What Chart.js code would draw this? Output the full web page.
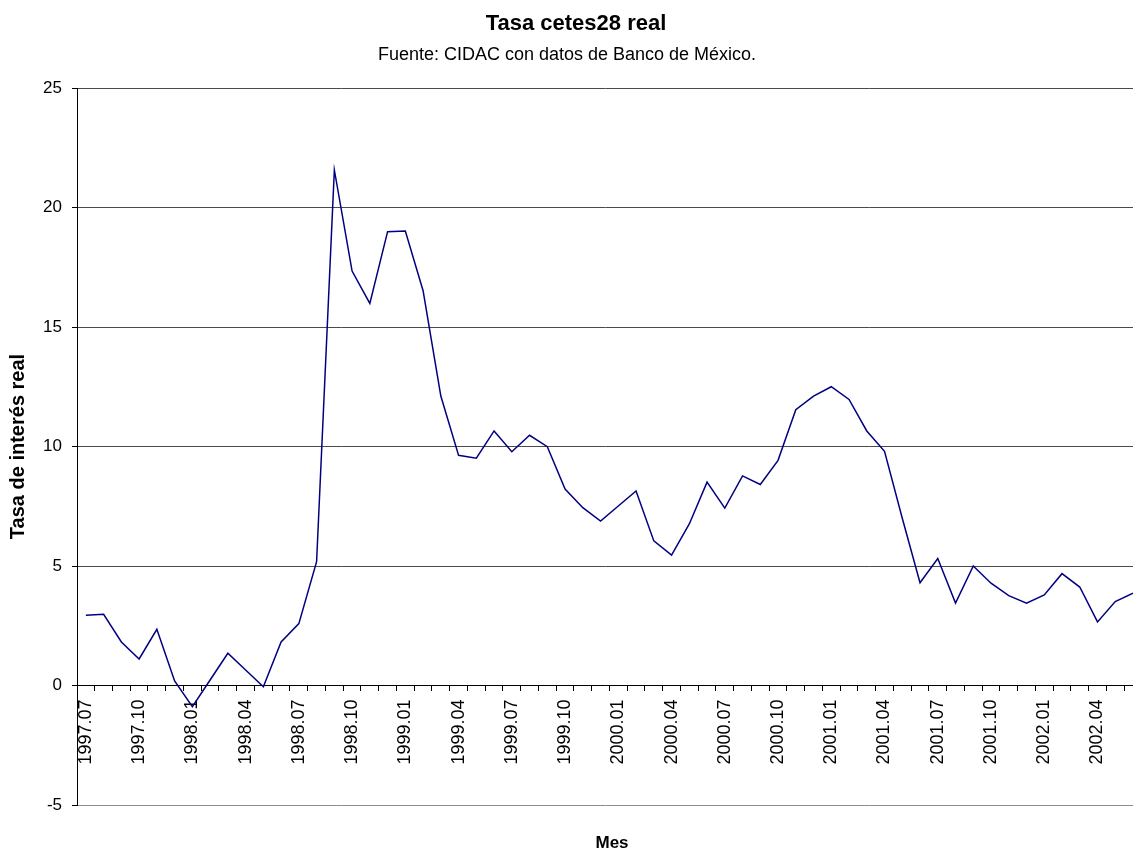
<!DOCTYPE html>
<html>
<head>
<meta charset="utf-8">
<script src="https://cdn.jsdelivr.net/npm/chart.js@4.4.1/dist/chart.umd.min.js"></script>
<style>
  html, body { margin: 0; padding: 0; background: #fff; overflow: hidden; }
  #wrap { width: 1133px; height: 850px; }
</style>
</head>
<body>
<div id="wrap"><canvas id="c" width="1133" height="850"></canvas></div>
<script>
// ---- data ----
const months = [
  "1997.07","1997.08","1997.09","1997.10","1997.11","1997.12",
  "1998.01","1998.02","1998.03","1998.04","1998.05","1998.06",
  "1998.07","1998.08","1998.09","1998.10","1998.11","1998.12",
  "1999.01","1999.02","1999.03","1999.04","1999.05","1999.06",
  "1999.07","1999.08","1999.09","1999.10","1999.11","1999.12",
  "2000.01","2000.02","2000.03","2000.04","2000.05","2000.06",
  "2000.07","2000.08","2000.09","2000.10","2000.11","2000.12",
  "2001.01","2001.02","2001.03","2001.04","2001.05","2001.06",
  "2001.07","2001.08","2001.09","2001.10","2001.11","2001.12",
  "2002.01","2002.02","2002.03","2002.04","2002.05","2002.06"
];
const tasaReal = [
  2.94, 2.98, 1.82, 1.11, 2.35, 0.19,
  -0.89, 0.23, 1.35, 0.65, -0.05, 1.82,
  2.59, 5.18, 21.57, 17.34, 15.99, 18.99,
  19.02, 16.52, 12.11, 9.63, 9.51, 10.65,
  9.78, 10.47, 9.99, 8.22, 7.44, 6.88,
  7.51, 8.14, 6.05, 5.46, 6.76, 8.51,
  7.42, 8.77, 8.41, 9.42, 11.54, 12.11,
  12.50, 11.97, 10.65, 9.80, 7.00, 4.30,
  5.31, 3.45, 5.00, 4.28, 3.76, 3.44,
  3.79, 4.68, 4.12, 2.66, 3.51, 3.86
];
const yTicks = [-5, 0, 5, 10, 15, 20, 25];
const labelEvery = 3;
const chartTitle = "Tasa cetes28 real";
const chartSubtitle = "Fuente: CIDAC con datos de Banco de México.";
const xTitle = "Mes";
const yTitle = "Tasa de interés real";

const FONT = "'Liberation Sans', Arial, Helvetica, sans-serif";

const points = tasaReal.map((v, i) => ({ x: i, y: v }));

const headerPlugin = {
  id: 'header',
  afterDraw(chart) {
    const ctx = chart.ctx;
    ctx.save();
    ctx.fillStyle = '#000';
    ctx.textAlign = 'center';
    ctx.textBaseline = 'alphabetic';
    ctx.font = "bold 22px " + FONT;
    ctx.fillText(chartTitle, 576, 30);
    ctx.font = "18px " + FONT;
    ctx.fillText(chartSubtitle, 567, 60);
    ctx.font = "bold 17px " + FONT;
    ctx.fillText(xTitle, 612, 848);
    ctx.restore();
  }
};

const noSidePadding = (scale) => { scale.paddingLeft = 0; scale.paddingRight = 0; };

new Chart(document.getElementById('c'), {
  type: 'line',
  data: {
    datasets: [{
      label: yTitle,
      data: points,
      xAxisID: 'x',
      yAxisID: 'y',
      borderColor: '#000080',
      borderWidth: 1.5,
      pointRadius: 0,
      tension: 0,
      fill: false
    }]
  },
  options: {
    responsive: false,
    animation: false,
    devicePixelRatio: 1,
    layout: { padding: { top: 88, left: 0, right: 0, bottom: 0 } },
    plugins: {
      legend: { display: false },
      tooltip: { enabled: false },
      title: { display: false }
    },
    scales: {
      x: {
        type: 'linear',
        position: { y: 0 },
        min: -0.5,
        max: months.length - 1,
        offset: false,
        grid: {
          display: true,
          drawOnChartArea: false,
          drawTicks: true,
          tickLength: 5,
          tickWidth: 1,
          tickColor: (ctx) => (ctx.tick && !Number.isInteger(ctx.tick.value)) ? '#000' : 'rgba(0,0,0,0)'
        },
        border: { display: true, color: '#000', width: 1 },
        ticks: {
          stepSize: 0.5,
          autoSkip: false,
          maxRotation: 90,
          minRotation: 90,
          padding: 9,
          color: '#000',
          font: { family: FONT, size: 18 },
          callback: (value) => (Number.isInteger(value) && value % labelEvery === 0 && months[value]) ? months[value] : ''
        },
        afterFit: noSidePadding
      },
      x2: {
        type: 'linear',
        axis: 'x',
        position: 'bottom',
        display: true,
        grid: { display: false },
        border: { display: false },
        ticks: { display: false },
        title: { display: false },
        afterFit: (scale) => { scale.height = 45; scale.paddingLeft = 0; scale.paddingRight = 0; }
      },
      y: {
        type: 'linear',
        position: 'left',
        min: yTicks[0],
        max: yTicks[yTicks.length - 1],
        afterBuildTicks: (scale) => { scale.ticks = yTicks.map(v => ({ value: v })); },
        grid: {
          color: (ctx) => (ctx.tick && ctx.tick.value === yTicks[0]) ? '#8c8c8c' : '#4a4a4a',
          lineWidth: 1,
          drawTicks: true,
          tickLength: 5,
          tickColor: '#000'
        },
        border: { display: true, color: '#000', width: 1 },
        ticks: {
          padding: 10,
          color: '#000',
          font: { family: FONT, size: 17 }
        },
        title: {
          display: true,
          text: yTitle,
          color: '#000',
          font: { family: FONT, size: 20, weight: 'bold', lineHeight: 1.2 },
          padding: { top: 6, bottom: 0 }
        },
        afterFit: (scale) => { scale.width = 77; }
      }
    }
  },
  plugins: [headerPlugin]
});
</script>
</body>
</html>
